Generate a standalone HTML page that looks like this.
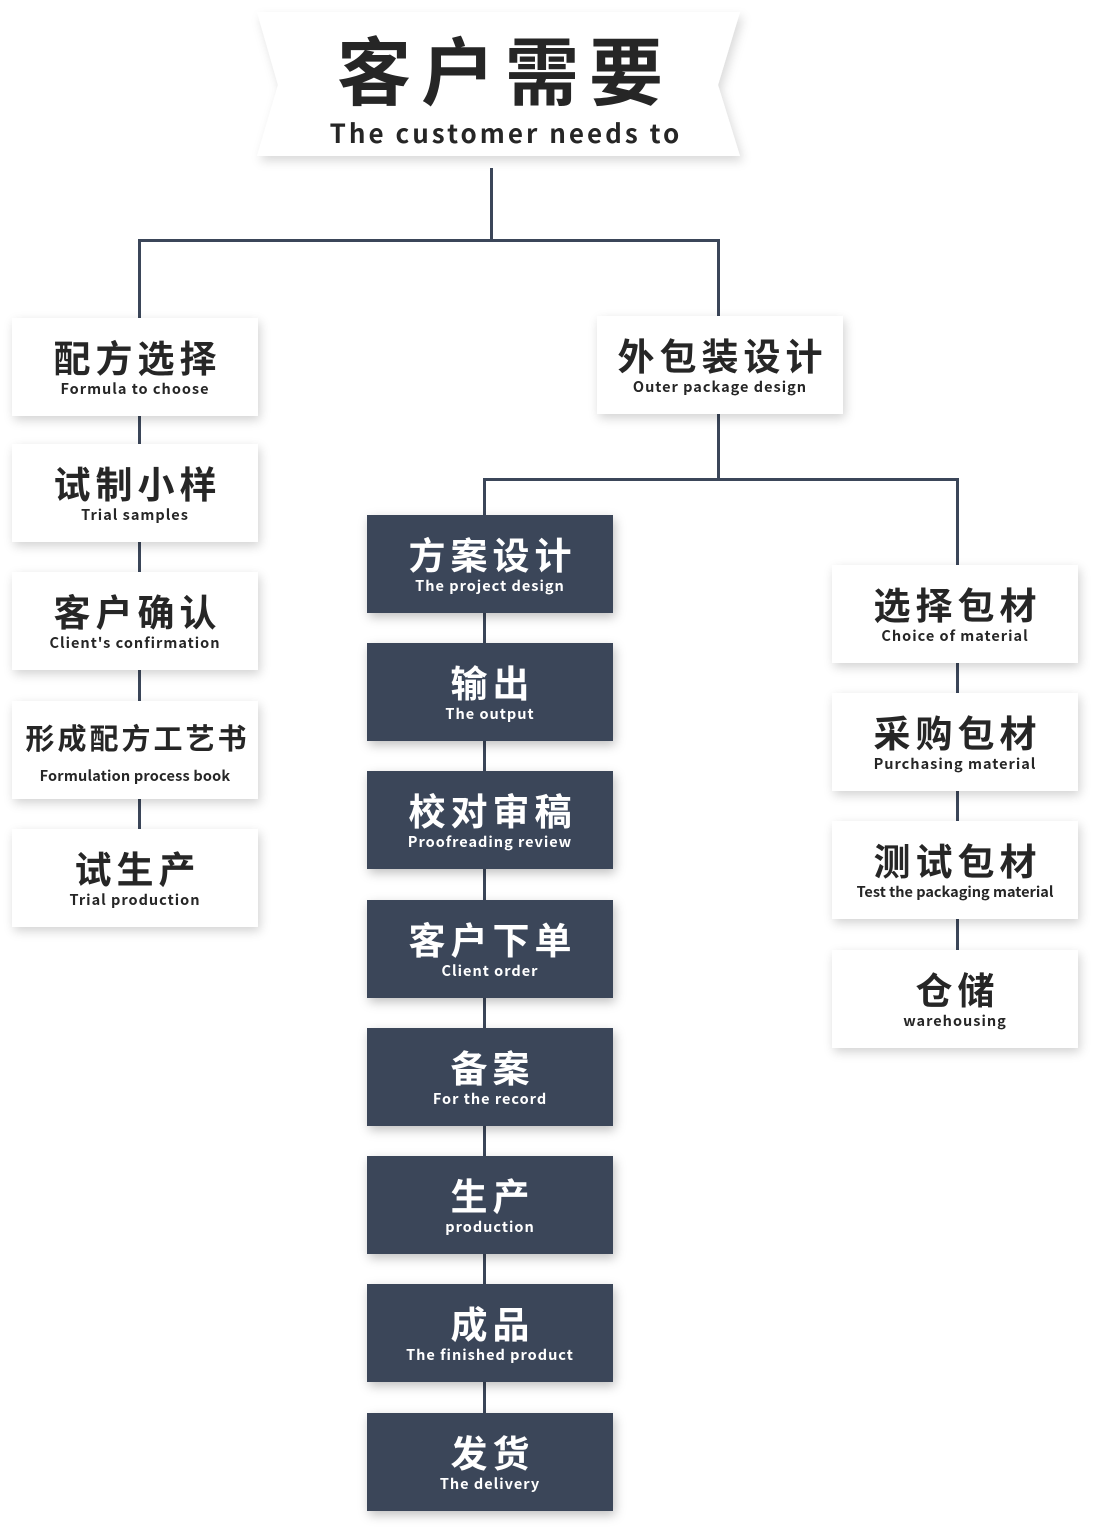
<!DOCTYPE html>
<html><head><meta charset="utf-8"><style>
body{margin:0;width:1094px;height:1528px;background:#fff;position:relative;overflow:hidden;font-family:"Liberation Sans","Noto Sans CJK SC",sans-serif;}
.l{position:absolute;background:#3b4659;}
.b{position:absolute;width:246px;height:98px;background:#fff;box-shadow:2px 4px 10px rgba(0,0,0,0.18);text-align:center;color:#262626;}
.d{background:#3b4659;color:#fff;box-shadow:2px 4px 10px rgba(0,0,0,0.25);}
.b .c{font-family:"Noto Sans CJK SC",sans-serif;font-weight:bold;font-size:37px;letter-spacing:5px;line-height:40px;margin-top:18px;padding-left:5px;}
.b .e{font-family:"Noto Sans CJK SC","Liberation Sans",sans-serif;font-weight:bold;font-size:14.5px;letter-spacing:1px;line-height:18px;margin-top:4px;}
</style></head><body>
<svg style="position:absolute;left:0;top:0" width="1094" height="200">
<defs><filter id="s" x="-10%" y="-20%" width="120%" height="150%"><feDropShadow dx="3" dy="5" stdDeviation="5" flood-color="#000" flood-opacity="0.15"/></filter></defs>
<polygon points="257,12 740,12 718,85 740,156 257,156 278,85" fill="#fff" filter="url(#s)"/>
<text x="505" y="99" text-anchor="middle" font-family="Noto Sans CJK SC" font-weight="bold" font-size="74" letter-spacing="10" fill="#262626">客户需要</text>
<text x="506" y="143" text-anchor="middle" font-family="Noto Sans CJK SC" font-weight="bold" font-size="26" letter-spacing="3" fill="#262626">The customer needs to</text>
</svg>
<div class="l" style="left:490px;top:168px;width:3px;height:74px"></div>
<div class="l" style="left:138px;top:239px;width:582px;height:3px"></div>
<div class="l" style="left:138px;top:239px;width:3px;height:640px"></div>
<div class="l" style="left:717px;top:239px;width:3px;height:241px"></div>
<div class="l" style="left:483px;top:478px;width:476px;height:3px"></div>
<div class="l" style="left:483px;top:478px;width:3px;height:980px"></div>
<div class="l" style="left:956px;top:478px;width:3px;height:520px"></div>

<div class="b" style="left:12px;top:318px"><div class="c">配方选择</div><div class="e">Formula to choose</div></div>
<div class="b" style="left:12px;top:444px"><div class="c">试制小样</div><div class="e">Trial samples</div></div>
<div class="b" style="left:12px;top:572px"><div class="c">客户确认</div><div class="e">Client's confirmation</div></div>
<div class="b" style="left:12px;top:701px"><div class="c" style="font-size:29px;letter-spacing:3px;margin-top:16px">形成配方工艺书</div><div class="e" style="letter-spacing:0.2px;margin-top:10px">Formulation process book</div></div>
<div class="b" style="left:12px;top:829px"><div class="c">试生产</div><div class="e">Trial production</div></div>

<div class="b" style="left:597px;top:316px"><div class="c">外包装设计</div><div class="e">Outer package design</div></div>

<div class="b d" style="left:367px;top:515px"><div class="c">方案设计</div><div class="e">The project design</div></div>
<div class="b d" style="left:367px;top:643px"><div class="c">输出</div><div class="e">The output</div></div>
<div class="b d" style="left:367px;top:771px"><div class="c">校对审稿</div><div class="e">Proofreading review</div></div>
<div class="b d" style="left:367px;top:900px"><div class="c">客户下单</div><div class="e">Client order</div></div>
<div class="b d" style="left:367px;top:1028px"><div class="c">备案</div><div class="e">For the record</div></div>
<div class="b d" style="left:367px;top:1156px"><div class="c">生产</div><div class="e">production</div></div>
<div class="b d" style="left:367px;top:1284px"><div class="c">成品</div><div class="e">The finished product</div></div>
<div class="b d" style="left:367px;top:1413px"><div class="c">发货</div><div class="e">The delivery</div></div>

<div class="b" style="left:832px;top:565px"><div class="c">选择包材</div><div class="e">Choice of material</div></div>
<div class="b" style="left:832px;top:693px"><div class="c">采购包材</div><div class="e">Purchasing material</div></div>
<div class="b" style="left:832px;top:821px"><div class="c">测试包材</div><div class="e" style="letter-spacing:0px">Test the packaging material</div></div>
<div class="b" style="left:832px;top:950px"><div class="c">仓储</div><div class="e">warehousing</div></div>
</body></html>
